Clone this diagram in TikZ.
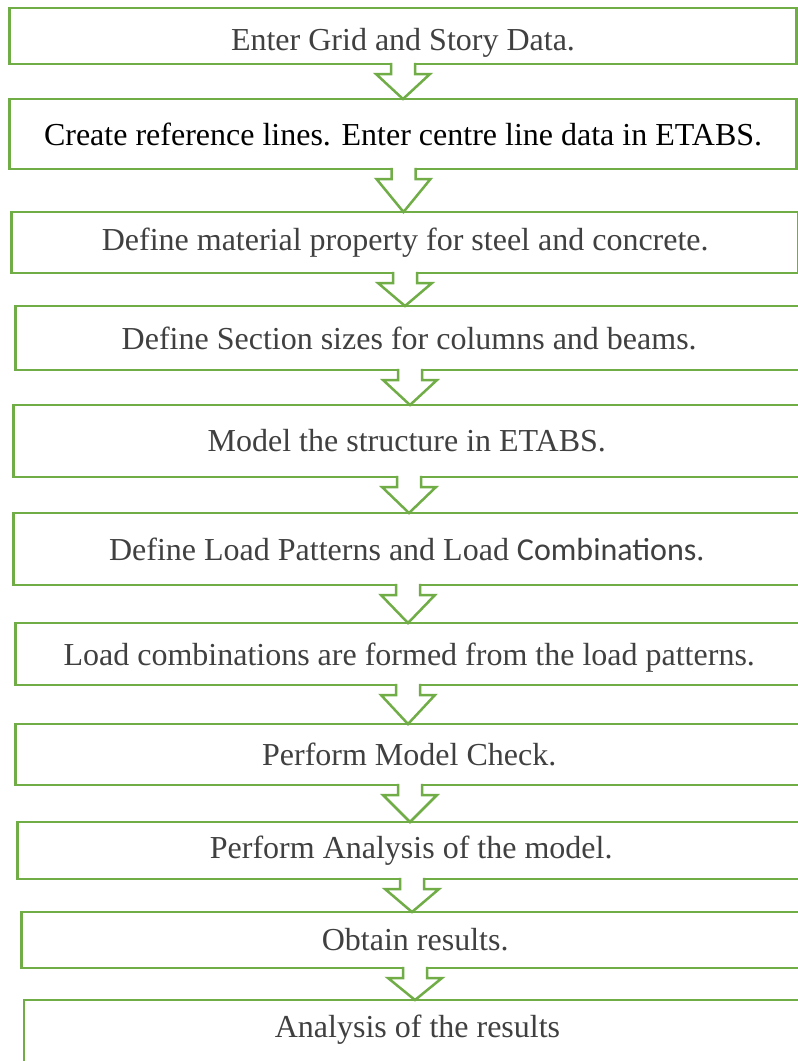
\documentclass[tikz,border=0pt]{standalone}
\usepackage{fontspec}
\setmainfont{Liberation Serif}
\newfontfamily\calibrifont{Carlito}
\usetikzlibrary{calc}
\definecolor{flowgreen}{HTML}{70AD47}
\definecolor{txtgray}{HTML}{404040}
\newcommand\flowarrow[3]{%
  \fill[white] let \p1=(#2.south), \p2=(#3.north) in
    ({#1pt-12pt},{\y1+2pt}) -- ({#1pt-12pt},{\y1-10pt}) -- ({#1pt-27pt},{\y1-10pt})
    -- (#1pt,\y2) -- ({#1pt+27pt},{\y1-10pt}) -- ({#1pt+12pt},{\y1-10pt})
    -- ({#1pt+12pt},{\y1+2pt}) -- cycle;
  \draw[arrowline] let \p1=(#2.south), \p2=(#3.north) in
    ({#1pt-12pt},{\y1+1.2pt}) -- ({#1pt-12pt},{\y1-10pt}) -- ({#1pt-27pt},{\y1-10pt})
    -- (#1pt,\y2) -- ({#1pt+27pt},{\y1-10pt}) -- ({#1pt+12pt},{\y1-10pt})
    -- ({#1pt+12pt},{\y1+1.2pt});
}
\begin{document}
\begin{tikzpicture}[x=1pt,y=-1pt,
  stepbox/.style={draw=flowgreen, line width=2.5pt, fill=white, minimum width=787pt,
    anchor=north west, inner sep=0pt, outer sep=0pt,
    font=\fontsize{32}{38}\selectfont, text=txtgray},
  steptext/.style={inner sep=0pt, font=\fontsize{32}{38}\selectfont, text=txtgray},
  arrowline/.style={draw=flowgreen, line width=2.5pt, line join=miter}]
\useasboundingbox (0,0) rectangle (798,1061);
\fill[white] (0,0) rectangle (798,1061);
\node[stepbox, minimum height=56pt, text height=28pt, text depth=0pt] (b1) at (9.5,8) {Enter Grid and Story Data.};
\node[stepbox, minimum height=70pt, text=black] (b2) at (9.5,99) {Create reference lines. Enter centre line data in ETABS.};
\node[stepbox, minimum height=61pt] (b3) at (11.7,212) {Define material property for steel and concrete.};
\node[stepbox, minimum height=64pt] (b4) at (15.7,306) {Define Section sizes for columns and beams.};
\node[stepbox, minimum height=72pt] (b5) at (13.3,405) {Model the structure in ETABS.};
\node[stepbox, minimum height=72pt] (b6) at (13.3,513) {Define Load Patterns and Load {\calibrifont Combinations}.};
\node[stepbox, minimum height=62pt, text height=22pt, text depth=0pt] (b7) at (15.7,623) {Load combinations are formed from the load patterns.};
\node[stepbox, minimum height=61pt] (b8) at (15.7,724) {Perform Model Check.};
\node[stepbox, minimum height=57pt] (b9) at (17.7,822) {Perform Analysis of the model.};
\node[stepbox, minimum height=56pt] (b10) at (21.7,912) {Obtain results.};
\node[stepbox, minimum height=100pt] (b11) at (24,1000) {};
\node[steptext] (t11) at ($(b11.north)+(0,30)$) {Analysis of the results};
\flowarrow{403}{b1}{b2}
\flowarrow{403.5}{b2}{b3}
\flowarrow{405}{b3}{b4}
\flowarrow{410}{b4}{b5}
\flowarrow{409}{b5}{b6}
\flowarrow{408}{b6}{b7}
\flowarrow{408}{b7}{b8}
\flowarrow{410}{b8}{b9}
\flowarrow{412}{b9}{b10}
\flowarrow{415}{b10}{b11}
\end{tikzpicture}
\end{document}
